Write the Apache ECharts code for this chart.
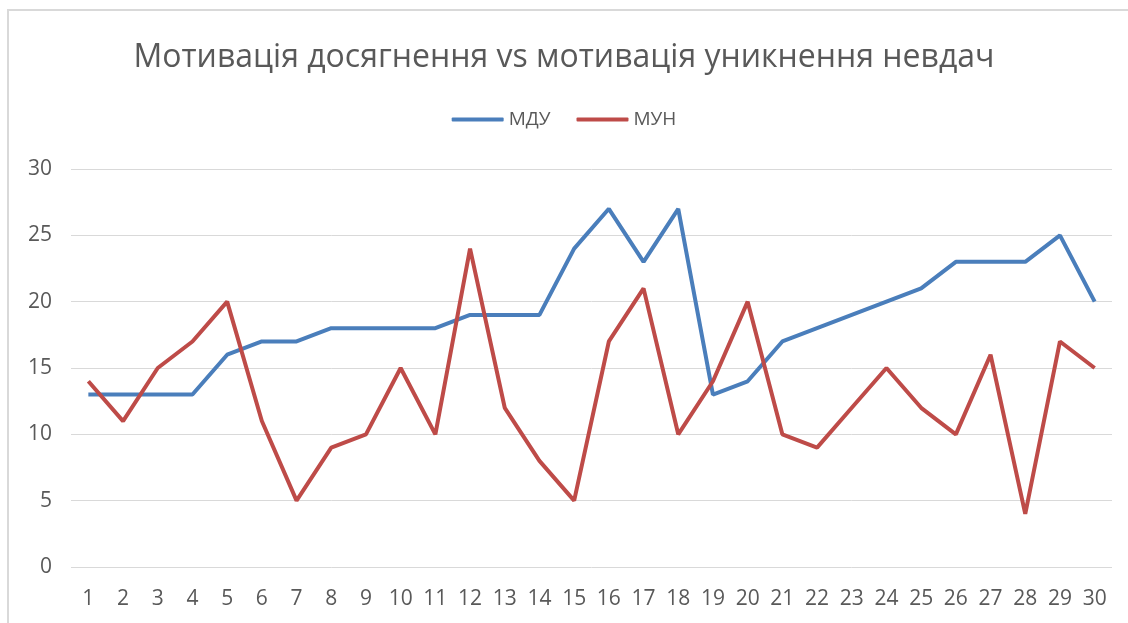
<!DOCTYPE html>
<html>
<head>
<meta charset="utf-8">
<script src="https://cdn.jsdelivr.net/npm/echarts@6/dist/echarts.min.js"></script>
<style>
  html, body { margin: 0; padding: 0; background: #fff; }
  #frame {
    position: absolute; left: 7px; top: 9px; width: 1130px; height: 620px;
    border: 2px solid #d9d9d9; box-sizing: border-box;
  }
  #chart { position: absolute; left: 0; top: 0; width: 1128px; height: 623px; }
</style>
</head>
<body>
<div id="frame"></div>
<div id="chart"></div>
<script>
// data
const categories = [
  "1", "2", "3", "4", "5", "6", "7", "8", "9", "10",
  "11", "12", "13", "14", "15", "16", "17", "18", "19", "20",
  "21", "22", "23", "24", "25", "26", "27", "28", "29", "30",
];
const mduValues = [
  13, 13, 13, 13, 16, 17, 17, 18, 18, 18,
  18, 19, 19, 19, 24, 27, 23, 27, 13, 14,
  17, 18, 19, 20, 21, 23, 23, 23, 25, 20,
];
const munValues = [
  14, 11, 15, 17, 20, 11, 5, 9, 10, 15,
  10, 24, 12, 8, 5, 17, 21, 10, 14, 20,
  10, 9, 12, 15, 12, 10, 16, 4, 17, 15,
];

const fontFamily = "'Open Sans', 'Noto Sans', sans-serif";
const chart = echarts.init(document.getElementById("chart"));

const option = {
  animation: false,
  title: {
    text: "Мотивація досягнення vs мотивація уникнення невдач",
    left: "center",
    top: 37,
    textStyle: { fontFamily, fontSize: 32, fontWeight: "normal", color: "#595959" },
  },
  legend: {
    top: 105,
    left: "center",
    itemWidth: 52,
    itemHeight: 4,
    itemGap: 26,
    icon: "roundRect",
    textStyle: { fontFamily, fontSize: 19, color: "#595959" },
    data: ["МДУ", "МУН"],
  },
  grid: { left: 71, right: 16, top: 169, bottom: 56, containLabel: false },
  xAxis: {
    type: "category",
    data: categories,
    boundaryGap: true,
    axisLine: { show: false },
    axisTick: { show: false },
    axisLabel: { fontFamily, fontSize: 21, color: "#595959", margin: 22, interval: 0 },
  },
  yAxis: {
    type: "value",
    min: 0,
    max: 30,
    interval: 5,
    axisLine: { show: false },
    axisTick: { show: false },
    axisLabel: { fontFamily, fontSize: 21, color: "#595959", margin: 19 },
    splitLine: { lineStyle: { color: "#d9d9d9", width: 1 } },
  },
  series: [
    {
      name: "МДУ",
      type: "line",
      data: mduValues,
      symbol: "none",
      lineStyle: { width: 4, color: "#4a7ebb" },
      itemStyle: { color: "#4a7ebb" },
    },
    {
      name: "МУН",
      type: "line",
      data: munValues,
      symbol: "none",
      lineStyle: { width: 4, color: "#be4b48" },
      itemStyle: { color: "#be4b48" },
    },
  ],
};

chart.setOption(option);
</script>
</body>
</html>
